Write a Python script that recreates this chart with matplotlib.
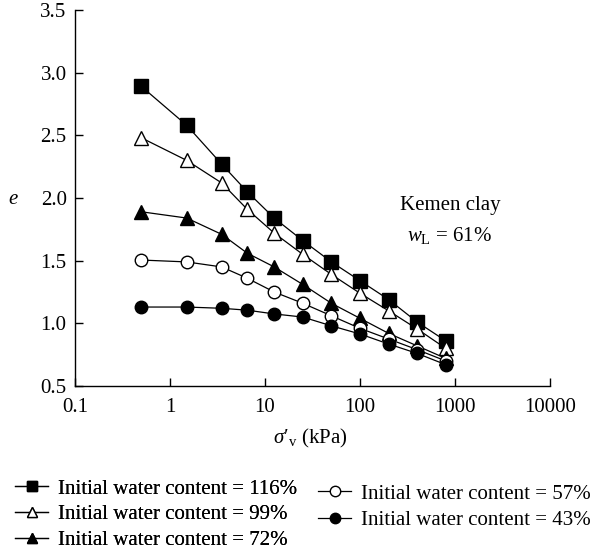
import matplotlib.pyplot as plt
from matplotlib.lines import Line2D

plt.rcParams['font.family'] = ['Liberation Serif', 'DejaVu Serif']
plt.rcParams['mathtext.fontset'] = 'custom'
plt.rcParams['mathtext.rm'] = 'Liberation Serif'
plt.rcParams['mathtext.it'] = 'Liberation Serif:italic'

stress = [0.5, 1.5, 3.5, 6.5, 12.5, 25, 50, 100, 200, 400, 800]

e_116 = [2.89, 2.58, 2.27, 2.05, 1.84, 1.66, 1.49, 1.34, 1.19, 1.01, 0.86]
e_99 = [2.48, 2.30, 2.12, 1.91, 1.72, 1.55, 1.39, 1.24, 1.10, 0.955, 0.80]
e_72 = [1.89, 1.84, 1.71, 1.56, 1.45, 1.31, 1.16, 1.04, 0.92, 0.82, 0.72]
e_57 = [1.505, 1.49, 1.45, 1.36, 1.25, 1.16, 1.06, 0.96, 0.875, 0.79, 0.70]
e_43 = [1.13, 1.13, 1.12, 1.105, 1.075, 1.05, 0.98, 0.915, 0.835, 0.76, 0.67]

labels = ['Initial water content = 116%', 'Initial water content = 99%',
          'Initial water content = 72%', 'Initial water content = 57%',
          'Initial water content = 43%']

fs = 15
fig = plt.figure(figsize=(5.97, 5.50), dpi=100)
ax = fig.add_axes([75/597, 1 - 386/550, 475/597, 376/550])

lw = 0.9
ax.plot(stress, e_116, '-s', color='black', mfc='black', ms=9.5, lw=lw)
ax.plot(stress, e_99, '-^', color='black', mfc='white', ms=10, lw=lw)
ax.plot(stress, e_72, '-^', color='black', mfc='black', ms=10, lw=lw)
ax.plot(stress, e_57, '-o', color='black', mfc='white', ms=9, lw=lw)
ax.plot(stress, e_43, '-o', color='black', mfc='black', ms=9, lw=lw)

ax.set_xscale('log')
ax.set_xlim(0.1, 10000)
ax.set_ylim(0.5, 3.5)
ax.set_xticks([0.1, 1, 10, 100, 1000, 10000])
ax.set_xticklabels(['0.1', '1', '10', '100', '1000', '10000'])
ax.set_yticks([0.5, 1.0, 1.5, 2.0, 2.5, 3.0, 3.5])
ax.set_yticklabels(['0.5', '1.0', '1.5', '2.0', '2.5', '3.0', '3.5'])
ax.minorticks_off()
ax.tick_params(direction='in', length=6, width=1, labelsize=fs)
ax.tick_params(axis='x', pad=9)
ax.tick_params(axis='y', pad=6)
for s in ['top', 'right']:
    ax.spines[s].set_visible(False)
for s in ['left', 'bottom']:
    ax.spines[s].set_linewidth(1)

fig.text(310/597, 1 - 438/550, r"$\mathit{\sigma}{\prime}_{\mathrm{v}}$ (kPa)", fontsize=fs, ha='center', va='center')
fig.text(13/597, 1 - 199/550, 'e', style='italic', fontsize=fs, va='center', ha='center')

fig.text(450/597, 1 - 205/550, 'Kemen clay', fontsize=fs, ha='center', va='center')
fig.text(450/597, 1 - 235/550, r'$w_{\mathrm{L}}$ = 61%', fontsize=fs, ha='center', va='center')

styles = [('s', 'black'), ('^', 'white'), ('^', 'black'), ('o', 'white'), ('o', 'black')]
handles = [Line2D([], [], color='black', lw=lw, marker=m, mfc=f, ms=7.5) for m, f in styles]

leg1 = fig.legend(handles[:3], labels[:3], loc='upper left', bbox_to_anchor=(15/597, 1 - 479/550),
                  frameon=False, fontsize=fs, handlelength=1.6, handletextpad=0.45,
                  labelspacing=0.3, borderaxespad=0, borderpad=0)
leg2 = fig.legend(handles[3:], labels[3:], loc='upper left', bbox_to_anchor=(318/597, 1 - 484/550),
                  frameon=False, fontsize=fs, handlelength=1.6, handletextpad=0.45,
                  labelspacing=0.35, borderaxespad=0, borderpad=0)
fig.add_artist(leg1)

fig.savefig('out.png', dpi=100)
